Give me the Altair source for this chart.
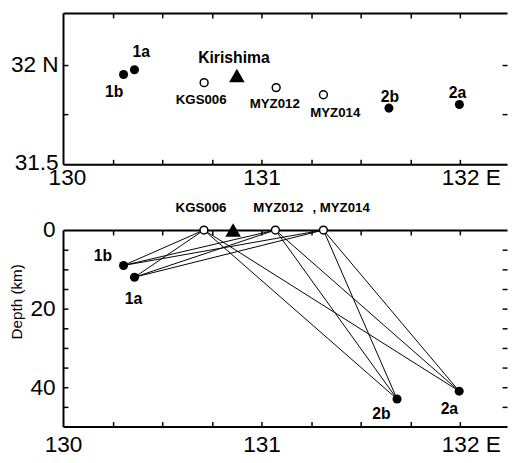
import altair as alt
import pandas as pd

FONT = "Liberation Sans"

# ---- map view (top) ----
event_names = ["1a", "1b", "2a", "2b"]
event_lon = [130.360, 130.305, 131.997, 131.642]
event_lat = [31.975, 31.951, 31.800, 31.782]

station_names = ["KGS006", "MYZ012", "MYZ014"]
station_lon = [130.711, 131.074, 131.312]
station_lat = [31.910, 31.885, 31.849]

volcano_names = ["Kirishima"]
volcano_lon = [130.876]
volcano_lat = [31.946]

# ---- cross section (bottom) ----
xs_event_lon = [130.360, 130.305, 131.996, 131.683]
xs_event_depth = [12.0, 9.0, 41.0, 43.0]
xs_station_labels = ["KGS006", "MYZ012", ", MYZ014"]
xs_station_lon = [130.710, 131.070, 131.312]
xs_station_depth = [0.0, 0.0, 0.0]
xs_volcano_lon = [130.857]
xs_volcano_depth = [0.0]
depth_title = ["Depth (km)"]

# ---- axes ----
lon_ticks = [130.25, 130.5, 130.75, 131.0, 131.25, 131.5, 131.75, 132.0]
lon_labels = [130, 131, 132]
lat_ticks = [31.75, 32.0]
lat_labels = [31.5, 32.0]
depth_ticks = [5, 10, 15, 20, 25, 30, 35, 40, 45]
depth_labels = [0, 20, 40]

ev = pd.DataFrame({"name": event_names, "lon": event_lon, "lat": event_lat})
st = pd.DataFrame({"name": station_names, "lon": station_lon, "lat": station_lat})
vo = pd.DataFrame({"name": volcano_names, "lon": volcano_lon, "lat": volcano_lat})
xev = pd.DataFrame({"name": event_names, "lon": xs_event_lon, "depth": xs_event_depth})
xst = pd.DataFrame({"name": xs_station_labels, "lon": xs_station_lon, "depth": xs_station_depth})
xvo = pd.DataFrame({"lon": xs_volcano_lon, "depth": xs_volcano_depth})
ttl = pd.DataFrame({"t": depth_title})
rays = pd.DataFrame([
    {"x1": xs_event_lon[i], "y1": xs_event_depth[i], "x2": xs_station_lon[j], "y2": xs_station_depth[j]}
    for i in range(len(xs_event_lon)) for j in range(len(xs_station_lon))
])

W, H1, H2 = 452, 154, 200
XS = alt.Scale(domain=[130, 132.237], nice=False, zero=False)
YS1 = alt.Scale(domain=[31.5, 32.26], nice=False, zero=False)
YS2 = alt.Scale(domain=[0, 50], nice=False, zero=False, reverse=True)

lab = dict(labelFont=FONT, labelFontSize=23, labelColor="black", labelFlush=False, title=None,
           grid=False, ticks=False, domain=True, domainColor="black", domainWidth=2)
tk = dict(labels=False, ticks=True, tickSize=5, tickWidth=1.5, tickColor="black",
          grid=False, title=None, domainColor="black", domainWidth=2)


def x_main(pad, off130):
    return alt.Axis(orient="bottom", values=lon_labels, labelPadding=pad,
                    labelExpr="datum.value == 132 ? '132 E' : format(datum.value, 'd')",
                    labelOffset={"condition": [
                        {"test": "datum.value == 132", "value": 11},
                        {"test": "datum.value == 130", "value": off130}], "value": 0},
                    **lab)


def XT(field, axis=None):
    return alt.X(f"{field}:Q", scale=XS, axis=axis)


def YT(axis=None):
    return alt.Y("lat:Q", scale=YS1, axis=axis)


def YB(axis=None, field="depth"):
    return alt.Y(f"{field}:Q", scale=YS2, axis=axis)


def text_layer(df, Y, name, dx, dy, size, weight="bold"):
    return alt.Chart(df).transform_filter(alt.datum.name == name).mark_text(
        dx=dx, dy=dy, fontSize=size, fontWeight=weight, font=FONT, color="black",
        align="center", baseline="middle"
    ).encode(x=XT("lon"), y=Y(), text="name:N")


def edge_axes(H, yvals):
    return (alt.Axis(orient="bottom", offset=-H, values=lon_ticks, domain=True, **tk),
            alt.Axis(orient="top", offset=-H, values=lon_ticks, domain=False, **tk),
            alt.Axis(orient="right", offset=-W, values=yvals, domain=False, **tk),
            alt.Axis(orient="left", offset=-W, values=yvals, domain=False, **tk))


# ---------- top panel ----------
y_main_top = alt.Axis(orient="left", values=lat_labels, labelPadding=5,
                      labelExpr="datum.value == 32 ? '32 N' : '31.5'",
                      labelOffset={"condition": {"test": "datum.value == 31.5", "value": -2}, "value": 0},
                      **lab)
t_ax_top, t_ax_bot, t_ay_l, t_ay_r = edge_axes(H1, lat_ticks)

top_layers = [
    alt.Chart(ev).mark_circle(size=85, color="black", opacity=1).encode(
        x=XT("lon", x_main(3, 4)), y=YT(y_main_top)),
    alt.Chart(st).mark_point(shape="circle", size=64, filled=True, fill="white",
                             stroke="black", strokeWidth=1.5, opacity=1).encode(x=XT("lon"), y=YT()),
    alt.Chart(vo).mark_point(shape="triangle-up", size=250, filled=True, color="black",
                             opacity=1).encode(x=XT("lon"), y=YT()),
    alt.Chart(ev).mark_point(opacity=0).encode(x=XT("lon", t_ax_top), y=YT(t_ay_l)),
    alt.Chart(ev).mark_point(opacity=0).encode(x=XT("lon", t_ax_bot), y=YT(t_ay_r)),
]
for name, df, dx, dy, size in [
    ("1a", ev, 7, -18, 16), ("1b", ev, -9.5, 18, 16), ("2a", ev, -2, -12, 16), ("2b", ev, 1, -11, 16),
    ("Kirishima", vo, -3, -18, 16),
    ("KGS006", st, -3, 17.5, 13.5), ("MYZ012", st, -1.5, 16.5, 13.5), ("MYZ014", st, 12, 19, 13.5),
]:
    top_layers.append(text_layer(df, YT, name, dx, dy, size))

top = alt.layer(*top_layers).resolve_axis(x="independent", y="independent").properties(
    width=W, height=H1)

# ---------- bottom panel ----------
y_main_bot = alt.Axis(orient="left", values=depth_labels, labelPadding=8, **lab)
b_ax_top, b_ax_bot, b_ay_l, b_ay_r = edge_axes(H2, depth_ticks)

bot_layers = [
    alt.Chart(rays).mark_rule(color="black", strokeWidth=1).encode(
        x=XT("x1"), y=YB(field="y1"), x2="x2:Q", y2="y2:Q"),
    alt.Chart(xev).mark_circle(size=85, color="black", opacity=1).encode(
        x=XT("lon", x_main(7, 0)), y=YB(y_main_bot)),
    alt.Chart(xst).mark_point(shape="circle", size=64, filled=True, fill="white",
                              stroke="black", strokeWidth=1.5, opacity=1).encode(x=XT("lon"), y=YB()),
    alt.Chart(xvo).mark_point(shape="triangle-up", size=250, filled=True, color="black",
                              opacity=1).encode(x=XT("lon"), y=YB()),
    alt.Chart(xev).mark_point(opacity=0).encode(x=XT("lon", b_ax_top), y=YB(b_ay_l)),
    alt.Chart(xev).mark_point(opacity=0).encode(x=XT("lon", b_ax_bot), y=YB(b_ay_r)),
    # y-axis title
    alt.Chart(ttl).mark_text(font=FONT, fontSize=15.5, color="black", angle=270,
                             align="center", baseline="alphabetic").encode(
        x=alt.value(-42), y=alt.value(73), text="t:N"),
]
for name, df, dx, dy, size in [
    ("1b", xev, -21, -10, 16), ("1a", xev, -1, 22, 16), ("2b", xev, -16, 15, 16), ("2a", xev, -10, 18, 16),
    ("KGS006", xst, -3, -22, 13.5), ("MYZ012", xst, 3, -22, 13.5), (", MYZ014", xst, 18, -22, 13.5),
]:
    bot_layers.append(text_layer(df, YB, name, dx, dy, size))

bottom = alt.layer(*bot_layers).resolve_axis(x="independent", y="independent").properties(
    width=W, height=H2)

chart = alt.vconcat(top, bottom, spacing=67, bounds="flush").properties(
    padding={"left": 2, "top": 0, "right": 0, "bottom": 0},
    background="white",
).configure_view(stroke=None)

chart.save("out.html", embed_options={"renderer": "svg", "actions": False})
